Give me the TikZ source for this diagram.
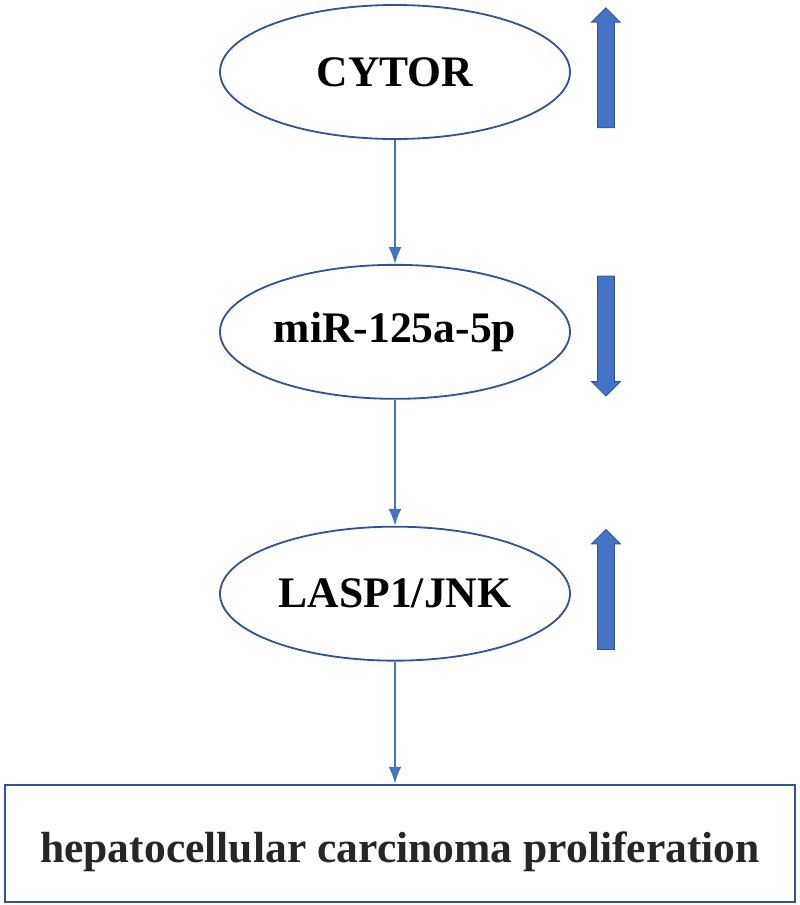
\documentclass[tikz,border=0pt]{standalone}
\usepackage{fontspec}
\setmainfont{Liberation Serif}
\usepackage{xcolor}
\usepackage{tikz}
\usetikzlibrary{shapes,arrows,arrows.meta,positioning,calc,shapes.geometric}

\definecolor{edgeblue}{HTML}{2F5597}
\definecolor{lineblue}{HTML}{4472C4}
\definecolor{darktext}{HTML}{262626}

\begin{document}
\begin{tikzpicture}[
  gene/.style={ellipse, draw=edgeblue, line width=1.3pt, minimum width=8.75cm, minimum height=3.35cm, inner sep=0pt, font=\fontsize{31}{34}\selectfont\bfseries},
  outcome/.style={rectangle, draw=edgeblue, line width=1.5pt, minimum width=19.75cm, minimum height=2.925cm, font=\fontsize{31}{34}\selectfont\bfseries, text=darktext},
  level/.style={single arrow, draw=edgeblue, fill=lineblue, line width=0.6pt, minimum height=3cm, minimum width=0.7cm, inner sep=0.2cm, single arrow head extend=0.15cm, single arrow tip angle=90},
  link/.style={-{Latex[length=0.42cm,width=0.32cm]}, draw=lineblue, line width=1.1pt}
]

\useasboundingbox (0,0) rectangle (20,-22.625);

\node[gene] (cytor) at (9.875,-1.8) {CYTOR};
\node[level, rotate=90, right=0.875cm of cytor, anchor=center] (cytor_up) {};

\node[gene, below=3.1cm of cytor] (mir) {miR-125a-5p};
\node[level, rotate=-90, right=0.875cm of mir, anchor=center] (mir_down) {};
\draw[link] (cytor) -- (mir);

\node[gene, below=3.15cm of mir] (lasp) {LASP1/JNK};
\node[level, rotate=90, right=0.875cm of lasp, anchor=center] (lasp_up) {};
\draw[link] (mir) -- (lasp);

\node[outcome, below=3.05cm of lasp, xshift=0.125cm] (hcc) {};
\node[font=\fontsize{31}{34}\selectfont\bfseries, text=darktext] (hcc_text) at ([yshift=-0.22cm]hcc.center) {hepatocellular carcinoma proliferation};
\draw[link] (lasp) -- (lasp|-hcc.north);

\end{tikzpicture}
\end{document}
